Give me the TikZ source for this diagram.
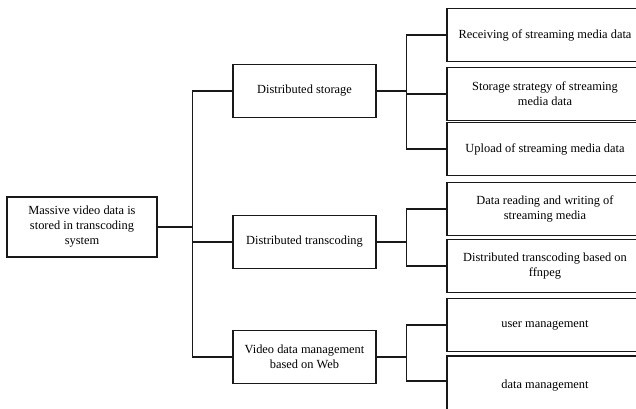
\documentclass[tikz,border=0pt]{standalone}
\usepackage{fontspec}
\setmainfont{Liberation Serif}
\begin{document}
\begin{tikzpicture}[x=1pt,y=-1pt,
  box/.style={draw=black!90, line width=1.2pt, align=center, inner sep=0pt,
    font=\fontsize{12.4}{15}\selectfont},
  rootbox/.style={box, minimum width=150pt, minimum height=60pt},
  midbox/.style={box, minimum width=143pt, minimum height=53pt},
  leafbox/.style={box, minimum width=196pt, minimum height=53pt},
  conn/.style={draw=black!90, line width=1.2pt}]
\useasboundingbox (0,0) rectangle (636,408);
\clip (0,0) rectangle (636,408);
\node[rootbox] (root) at (82,227) {Massive video data is\\stored in transcoding\\system};
\node[midbox] (storage) at (304.5,91) {Distributed storage};
\node[midbox] (trans) at (304.5,242) {Distributed transcoding};
\node[midbox] (web) at (304.5,357) {Video data management\\based on Web};
\node[leafbox] (c1) at (545,35) {Receiving of streaming media data};
\node[leafbox] (c2) at (545,94) {Storage strategy of streaming\\media data};
\node[leafbox] (c3) at (545,149) {Upload of streaming media data};
\node[leafbox] (c4) at (545,209) {Data reading and writing of\\streaming media};
\node[leafbox] (c5) at (545,266) {Distributed transcoding based on\\ffnpeg};
\node[leafbox] (c6) at (545,325) {user management};
\node[leafbox, minimum height=60pt] (c7) at (545,386) {data management};
% root trunk
\draw[conn] (root.east) -- ++(35,0) coordinate (t0);
\draw[conn] (storage.west) -| (t0) |- (web.west);
\draw[conn] (trans.west) -- (t0 |- trans.west);
% storage branch
\draw[conn] (storage.east) -- ++(30,0) coordinate (s1);
\draw[conn] (c1.west) -| (s1) |- (c3.west);
\draw[conn] (c2.west) -- (s1 |- c2.west);
% transcoding branch
\draw[conn] (trans.east) -- ++(30,0) coordinate (s2);
\draw[conn] (c4.west) -| (s2) |- (c5.west);
% web branch
\draw[conn] (web.east) -- ++(30,0) coordinate (s3);
\draw[conn] (c6.west) -| (s3) |- ([yshift=5pt]c7.west);
\end{tikzpicture}
\end{document}
